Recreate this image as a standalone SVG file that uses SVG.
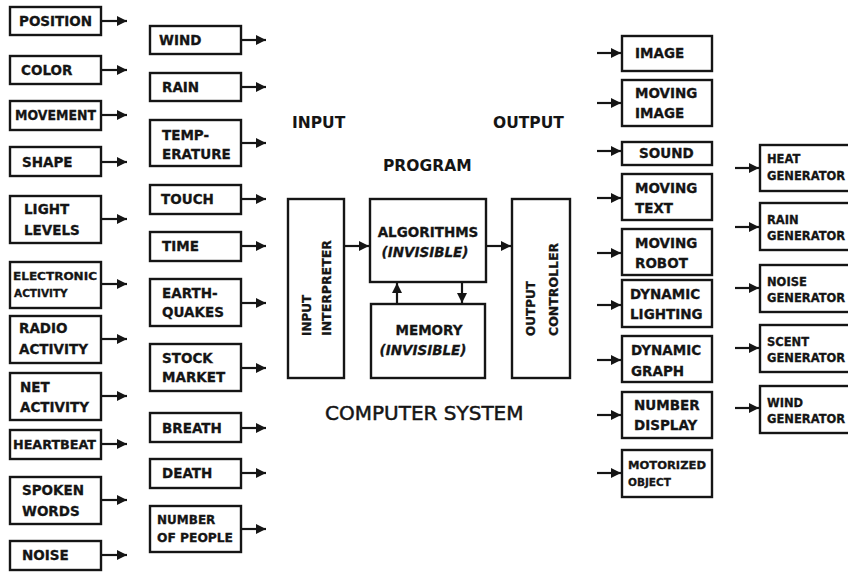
<svg xmlns="http://www.w3.org/2000/svg" width="848" height="572" viewBox="0 0 848 572">
<style>
.bx{fill:#fff;stroke:#151515;stroke-width:2.4}
.t{font-family:"DejaVu Sans",Verdana,sans-serif;font-weight:bold;font-size:13.5px;fill:#151515;stroke:#151515;stroke-width:0.3}
.s{font-size:11.5px}
.xs{font-size:10.5px}
.h{font-family:"DejaVu Sans",Verdana,sans-serif;font-weight:bold;font-size:15.5px;fill:#151515}
.big{font-family:"DejaVu Sans",Verdana,sans-serif;font-size:20px;fill:#151515;stroke:#151515;stroke-width:0.5}
.it{font-style:italic}
.m{text-anchor:middle}
#conn line{stroke:#151515;stroke-width:2.2;marker-end:url(#ah)}
</style>
<defs>
<marker id="ah" markerUnits="userSpaceOnUse" markerWidth="11" markerHeight="11" refX="10" refY="5" orient="auto">
<path d="M0,0 L10,5 L0,10 Z" fill="#151515"/>
</marker>
</defs>
<rect width="848" height="572" fill="#fff"/>

<!-- Left column 1 -->
<g id="position"><rect class="bx" x="10" y="7" width="91" height="28"/><text class="t" x="19" y="26">POSITION</text></g>
<g id="color"><rect class="bx" x="10" y="56" width="91" height="28"/><text class="t" x="21" y="75">COLOR</text></g>
<g id="movement"><rect class="bx" x="10" y="101" width="91" height="29"/><text class="t" x="15" y="120" textLength="81" lengthAdjust="spacingAndGlyphs">MOVEMENT</text></g>
<g id="shape"><rect class="bx" x="10" y="147" width="91" height="29"/><text class="t" x="22" y="167">SHAPE</text></g>
<g id="light"><rect class="bx" x="10" y="196" width="91" height="47"/><text class="t" x="24" y="214">LIGHT</text><text class="t" x="24" y="235">LEVELS</text></g>
<g id="electronic"><rect class="bx" x="10" y="262" width="91" height="46"/><text class="t xs" x="13" y="280" textLength="84" lengthAdjust="spacingAndGlyphs">ELECTRONIC</text><text class="t xs" x="14" y="297">ACTIVITY</text></g>
<g id="radio"><rect class="bx" x="10" y="316" width="91" height="47"/><text class="t" x="19" y="333">RADIO</text><text class="t" x="19" y="354">ACTIVITY</text></g>
<g id="net"><rect class="bx" x="10" y="373" width="91" height="47"/><text class="t" x="20" y="392">NET</text><text class="t" x="20" y="412">ACTIVITY</text></g>
<g id="heartbeat"><rect class="bx" x="10" y="430" width="91" height="29"/><text class="t s" x="13" y="449" textLength="83" lengthAdjust="spacingAndGlyphs">HEARTBEAT</text></g>
<g id="spoken"><rect class="bx" x="10" y="477" width="91" height="47"/><text class="t" x="22" y="495">SPOKEN</text><text class="t" x="22" y="516">WORDS</text></g>
<g id="noise"><rect class="bx" x="10" y="541" width="91" height="29"/><text class="t" x="22" y="560">NOISE</text></g>

<!-- Left column 2 -->
<g id="wind"><rect class="bx" x="150" y="26" width="91" height="28"/><text class="t" x="159" y="45">WIND</text></g>
<g id="rain"><rect class="bx" x="150" y="73" width="91" height="28"/><text class="t" x="162" y="92">RAIN</text></g>
<g id="temperature"><rect class="bx" x="150" y="120" width="91" height="46"/><text class="t" x="162" y="140">TEMP-</text><text class="t" x="162" y="158.5">ERATURE</text></g>
<g id="touch"><rect class="bx" x="150" y="185" width="91" height="29"/><text class="t" x="161" y="204">TOUCH</text></g>
<g id="time"><rect class="bx" x="150" y="232" width="91" height="29"/><text class="t" x="162" y="251">TIME</text></g>
<g id="earthquakes"><rect class="bx" x="150" y="279" width="91" height="47"/><text class="t" x="162" y="298">EARTH-</text><text class="t" x="162" y="317">QUAKES</text></g>
<g id="stock"><rect class="bx" x="150" y="344" width="91" height="47"/><text class="t" x="162" y="363">STOCK</text><text class="t" x="162" y="382">MARKET</text></g>
<g id="breath"><rect class="bx" x="150" y="413" width="91" height="29"/><text class="t" x="162" y="433">BREATH</text></g>
<g id="death"><rect class="bx" x="150" y="459" width="91" height="29"/><text class="t" x="162" y="478">DEATH</text></g>
<g id="people"><rect class="bx" x="150" y="506" width="91" height="46"/><text class="t" x="157" y="524" style="font-size:12px">NUMBER</text><text class="t" x="157" y="542" style="font-size:12px" textLength="76" lengthAdjust="spacingAndGlyphs">OF PEOPLE</text></g>

<!-- Center -->
<text class="h" x="292" y="128">INPUT</text>
<text class="h" x="493" y="128">OUTPUT</text>
<text class="h" x="383" y="171">PROGRAM</text>
<g id="interpreter"><rect class="bx" x="288" y="199" width="56" height="179"/>
<text class="t" transform="translate(311,336) rotate(-90)" style="font-size:12px">INPUT</text>
<text class="t" transform="translate(331,336) rotate(-90)" style="font-size:12.5px">INTERPRETER</text></g>
<g id="algorithms"><rect class="bx" x="370" y="199" width="116" height="83"/>
<text class="t m" x="428" y="237">ALGORITHMS</text><text class="t m it" x="425" y="257">(INVISIBLE)</text></g>
<g id="memory"><rect class="bx" x="371" y="304" width="114" height="74"/>
<text class="t m" x="429" y="335">MEMORY</text><text class="t m it" x="423" y="355">(INVISIBLE)</text></g>
<g id="controller"><rect class="bx" x="512" y="199" width="58" height="179"/>
<text class="t" transform="translate(535,336) rotate(-90)" style="font-size:12px">OUTPUT</text>
<text class="t" transform="translate(558,336) rotate(-90)" style="font-size:12.5px">CONTROLLER</text></g>
<text class="big" x="325" y="420">COMPUTER SYSTEM</text>

<!-- Right column 1 -->
<g id="image"><rect class="bx" x="622" y="36" width="90" height="35"/><text class="t" x="635" y="58">IMAGE</text></g>
<g id="movingimage"><rect class="bx" x="622" y="80" width="90" height="46"/><text class="t" x="635" y="98">MOVING</text><text class="t" x="635" y="118">IMAGE</text></g>
<g id="sound"><rect class="bx" x="622" y="142" width="90" height="23"/><text class="t" x="639" y="158">SOUND</text></g>
<g id="movingtext"><rect class="bx" x="622" y="174" width="90" height="46"/><text class="t" x="635" y="193">MOVING</text><text class="t" x="635" y="213">TEXT</text></g>
<g id="robot"><rect class="bx" x="622" y="229" width="90" height="46"/><text class="t" x="635" y="248">MOVING</text><text class="t" x="635" y="268">ROBOT</text></g>
<g id="lighting"><rect class="bx" x="622" y="280" width="90" height="47"/><text class="t" x="630" y="299">DYNAMIC</text><text class="t" x="630" y="319">LIGHTING</text></g>
<g id="graph"><rect class="bx" x="622" y="336" width="90" height="46"/><text class="t" x="631" y="355">DYNAMIC</text><text class="t" x="631" y="376">GRAPH</text></g>
<g id="display"><rect class="bx" x="622" y="392" width="90" height="46"/><text class="t" x="634" y="410">NUMBER</text><text class="t" x="634" y="430">DISPLAY</text></g>
<g id="motorized"><rect class="bx" x="622" y="450" width="90" height="47"/><text class="t xs" x="628" y="469" textLength="78" lengthAdjust="spacingAndGlyphs">MOTORIZED</text><text class="t xs" x="628" y="486">OBJECT</text></g>

<!-- Right column 2 -->
<g id="heat"><rect class="bx" x="760" y="145" width="94" height="46"/><text class="t s" x="767" y="163">HEAT</text><text class="t s" x="767" y="180">GENERATOR</text></g>
<g id="raingen"><rect class="bx" x="760" y="203" width="94" height="47"/><text class="t s" x="767" y="224">RAIN</text><text class="t s" x="767" y="240">GENERATOR</text></g>
<g id="noisegen"><rect class="bx" x="760" y="265" width="94" height="47"/><text class="t s" x="767" y="286">NOISE</text><text class="t s" x="767" y="302">GENERATOR</text></g>
<g id="scentgen"><rect class="bx" x="760" y="325" width="94" height="47"/><text class="t s" x="767" y="346">SCENT</text><text class="t s" x="767" y="362">GENERATOR</text></g>
<g id="windgen"><rect class="bx" x="760" y="386" width="94" height="47"/><text class="t s" x="767" y="407">WIND</text><text class="t s" x="767" y="423">GENERATOR</text></g>

<g id="conn">
<line x1="101" y1="21" x2="127" y2="21"/>
<line x1="101" y1="70" x2="127" y2="70"/>
<line x1="101" y1="115" x2="127" y2="115"/>
<line x1="101" y1="162" x2="127" y2="162"/>
<line x1="101" y1="219" x2="127" y2="219"/>
<line x1="101" y1="284" x2="127" y2="284"/>
<line x1="101" y1="339" x2="127" y2="339"/>
<line x1="101" y1="396" x2="127" y2="396"/>
<line x1="101" y1="444" x2="127" y2="444"/>
<line x1="101" y1="500" x2="127" y2="500"/>
<line x1="101" y1="555" x2="127" y2="555"/>
<line x1="241" y1="40" x2="266" y2="40"/>
<line x1="241" y1="87" x2="266" y2="87"/>
<line x1="241" y1="143" x2="266" y2="143"/>
<line x1="241" y1="199" x2="266" y2="199"/>
<line x1="241" y1="246" x2="266" y2="246"/>
<line x1="241" y1="303" x2="266" y2="303"/>
<line x1="241" y1="368" x2="266" y2="368"/>
<line x1="241" y1="428" x2="266" y2="428"/>
<line x1="241" y1="473" x2="266" y2="473"/>
<line x1="241" y1="529" x2="266" y2="529"/>
<line x1="344" y1="246" x2="369" y2="246"/>
<line x1="486" y1="246" x2="511" y2="246"/>
<line x1="397" y1="304" x2="397" y2="283"/>
<line x1="462" y1="282" x2="462" y2="303"/>
<line x1="597" y1="53" x2="621" y2="53"/>
<line x1="597" y1="103" x2="621" y2="103"/>
<line x1="597" y1="151" x2="621" y2="151"/>
<line x1="597" y1="198" x2="621" y2="198"/>
<line x1="597" y1="253" x2="621" y2="253"/>
<line x1="597" y1="305" x2="621" y2="305"/>
<line x1="597" y1="360" x2="621" y2="360"/>
<line x1="597" y1="415" x2="621" y2="415"/>
<line x1="597" y1="473" x2="621" y2="473"/>
<line x1="735" y1="168" x2="759" y2="168"/>
<line x1="735" y1="227" x2="759" y2="227"/>
<line x1="735" y1="288" x2="759" y2="288"/>
<line x1="735" y1="348" x2="759" y2="348"/>
<line x1="735" y1="408" x2="759" y2="408"/>
</g>
</svg>
